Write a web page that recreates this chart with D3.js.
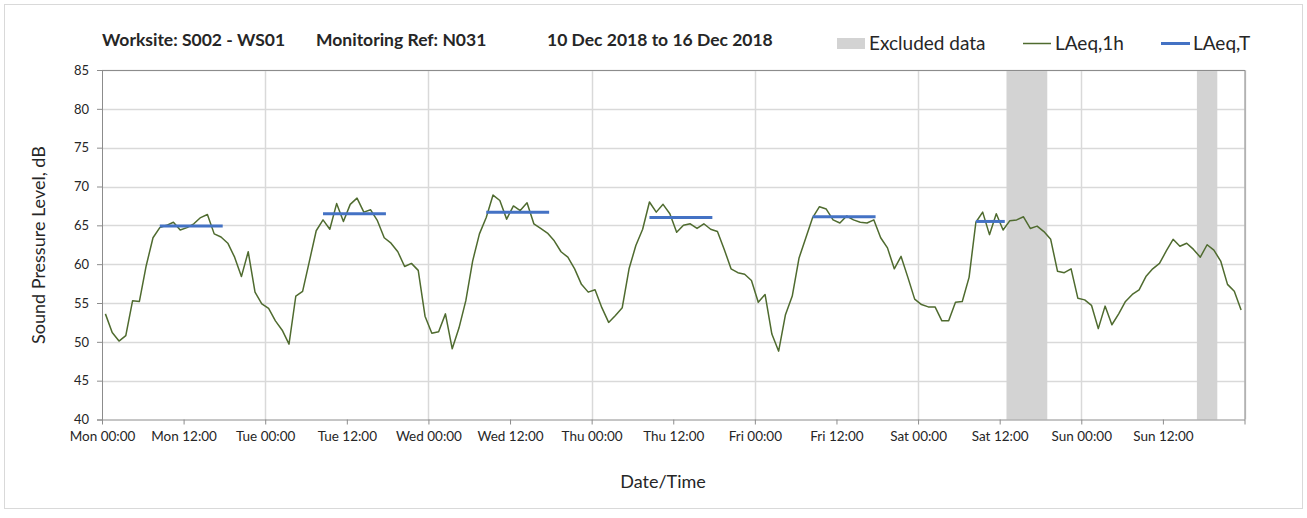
<!DOCTYPE html>
<html>
<head>
<meta charset="utf-8">
<script src="https://cdn.jsdelivr.net/npm/d3@7"></script>
<style>
    body { margin: 0; background: #fff; }
    text { font-family: Lato, "Open Sans", sans-serif; fill: #262626; }
</style>
</head>
<body>
<div id="chart"></div>
<script>
// hourly LAeq,1h values, Mon 00:00 .. Sun 23:00
var monday = [53.6, 51.2, 50.1, 50.8, 55.3, 55.2, 59.8, 63.4, 64.7, 65.0, 65.4, 64.4,
              64.7, 65.2, 66.0, 66.4, 63.9, 63.5, 62.7, 60.9, 58.4, 61.6, 56.4, 54.9];
var tuesday = [54.3, 52.7, 51.5, 49.7, 55.9, 56.5, 60.4, 64.3, 65.7, 64.5, 67.8, 65.5,
               67.7, 68.5, 66.7, 67.0, 65.6, 63.4, 62.7, 61.6, 59.7, 60.1, 59.2, 53.3];
var wednesday = [51.1, 51.3, 53.6, 49.1, 51.8, 55.3, 60.4, 63.9, 66.0, 68.9, 68.2, 65.8,
                 67.5, 66.9, 67.9, 65.2, 64.6, 64.0, 63.0, 61.6, 60.9, 59.4, 57.4, 56.4];
var thursday = [56.7, 54.4, 52.5, 53.4, 54.4, 59.4, 62.4, 64.5, 68.0, 66.7, 67.7, 66.5,
                64.1, 65.0, 65.2, 64.6, 65.2, 64.5, 64.2, 61.9, 59.4, 58.9, 58.7, 57.9];
var friday = [55.1, 56.1, 51.0, 48.8, 53.5, 55.9, 60.8, 63.4, 66.0, 67.4, 67.1, 65.7,
              65.3, 66.2, 65.7, 65.4, 65.3, 65.7, 63.4, 62.1, 59.4, 61.0, 58.3, 55.5];
var saturday = [54.8, 54.5, 54.5, 52.7, 52.7, 55.1, 55.2, 58.3, 65.4, 66.7, 63.8, 66.5,
                64.4, 65.6, 65.7, 66.1, 64.6, 64.9, 64.2, 63.2, 59.1, 58.9, 59.4, 55.6];
var sunday = [55.4, 54.7, 51.7, 54.6, 52.2, 53.6, 55.2, 56.1, 56.7, 58.4, 59.4, 60.1,
              61.7, 63.2, 62.3, 62.7, 61.9, 60.9, 62.5, 61.8, 60.4, 57.4, 56.5, 54.1];

// LAeq,T daytime values: first hour, last hour, level
var laeqT = [
    {from: 8, to: 17, level: 64.9},
    {from: 32, to: 41, level: 66.5},
    {from: 56, to: 65, level: 66.7},
    {from: 80, to: 89, level: 66.0},
    {from: 104, to: 113, level: 66.1},
    {from: 128, to: 132, level: 65.5}
];

// excluded periods in hours since Mon 00:00
var excluded = [
    {start: 133, end: 139},
    {start: 161, end: 164}
];

var xTickLabels = ["Mon 00:00", "Mon 12:00", "Tue 00:00", "Tue 12:00", "Wed 00:00", "Wed 12:00",
                   "Thu 00:00", "Thu 12:00", "Fri 00:00", "Fri 12:00", "Sat 00:00", "Sat 12:00",
                   "Sun 00:00", "Sun 12:00"];
var yTicks = [40, 45, 50, 55, 60, 65, 70, 75, 80, 85];

function drawChart() {
    var hourly = [].concat(monday, tuesday, wednesday, thursday, friday, saturday, sunday);

    var width = 1307;
    var height = 518;
    var pLeft = 102, pRight = 1244.5, pTop = 70, pBottom = 419.5;

    var svg = d3.select("#chart").append("svg")
        .attr("width", width)
        .attr("height", height);

    //outer chart border
    svg.append("rect")
        .attr("x", 4.5).attr("y", 4.5)
        .attr("width", 1298).attr("height", 504)
        .attr("fill", "none")
        .attr("stroke", "#d9d9d9");

    var x = d3.scaleLinear().domain([0, 168]).range([pLeft, pRight]);
    var y = d3.scaleLinear().domain([40, 85]).range([pBottom, pTop]);

    //gridlines
    svg.append("g").selectAll("line")
        .data(yTicks.filter(function (d) { return d > 40; }))
        .enter().append("line")
        .attr("x1", pLeft).attr("x2", pRight)
        .attr("y1", function (d) { return Math.round(y(d)) + 0.5; })
        .attr("y2", function (d) { return Math.round(y(d)) + 0.5; })
        .attr("stroke", "#d9d9d9")
        .attr("stroke-width", 1.5);

    svg.append("g").selectAll("line")
        .data(d3.range(24, 169, 24))
        .enter().append("line")
        .attr("x1", function (d) { return Math.round(x(d)) + 0.5; })
        .attr("x2", function (d) { return Math.round(x(d)) + 0.5; })
        .attr("y1", pTop).attr("y2", pBottom)
        .attr("stroke", "#d9d9d9")
        .attr("stroke-width", 1.5);

    //excluded data bands
    svg.append("g").selectAll("rect")
        .data(excluded)
        .enter().append("rect")
        .attr("x", function (d) { return x(d.start); })
        .attr("width", function (d) { return x(d.end) - x(d.start); })
        .attr("y", pTop)
        .attr("height", pBottom - pTop)
        .attr("fill", "#d3d3d3");

    //axes
    var yAxis = d3.axisLeft(y).tickValues(yTicks).tickSize(5).tickPadding(8);
    var gy = svg.append("g")
        .attr("transform", "translate(" + pLeft + ",0)")
        .call(yAxis);
    gy.select(".domain").attr("stroke", "#8c8c8c");
    gy.selectAll(".tick line").attr("stroke", "#8c8c8c");
    gy.selectAll("text").style("font-size", "13px").attr("fill", "#262626");

    var xAxis = d3.axisBottom(x)
        .tickValues(d3.range(0, 169, 12))
        .tickSize(5)
        .tickPadding(7)
        .tickFormat(function (d, i) { return xTickLabels[i] || ""; })
        .tickSizeOuter(0);
    var gx = svg.append("g")
        .attr("transform", "translate(0," + pBottom + ")")
        .call(xAxis);
    gx.select(".domain").attr("stroke", "#8c8c8c");
    gx.selectAll(".tick line").attr("stroke", "#8c8c8c");
    gx.selectAll("text").style("font-size", "13.5px").attr("fill", "#262626");

    //top and right frame
    svg.append("path")
        .attr("d", "M" + pLeft + "," + (pTop + 0.5) + "H" + (pRight + 0.5) + "V" + pBottom)
        .attr("fill", "none")
        .attr("stroke", "#8c8c8c");

    //LAeq,1h line
    var line = d3.line()
        .x(function (d, i) { return x(i + 0.5); })
        .y(function (d) { return y(d); });

    svg.append("path")
        .datum(hourly)
        .attr("d", line)
        .attr("fill", "none")
        .attr("stroke", "#4f6b2f")
        .attr("stroke-width", 1.5)
        .attr("stroke-linejoin", "round");

    //LAeq,T segments
    svg.append("g").selectAll("line")
        .data(laeqT)
        .enter().append("line")
        .attr("x1", function (d) { return x(d.from + 0.5); })
        .attr("x2", function (d) { return x(d.to + 0.75); })
        .attr("y1", function (d) { return y(d.level); })
        .attr("y2", function (d) { return y(d.level); })
        .attr("stroke", "#4472c4")
        .attr("stroke-width", 3);

    //title
    var title = svg.append("g").style("font-size", "17.5px").style("font-weight", "bold");
    title.append("text").attr("x", 102).attr("y", 46).text("Worksite: S002 - WS01");
    title.append("text").attr("x", 316).attr("y", 46).text("Monitoring Ref: N031");
    title.append("text").attr("x", 547).attr("y", 46).text("10 Dec 2018 to 16 Dec 2018");

    //legend
    var legend = svg.append("g").style("font-size", "19px");
    legend.append("rect").attr("x", 837).attr("y", 38).attr("width", 28).attr("height", 11).attr("fill", "#d3d3d3");
    legend.append("text").attr("x", 869).attr("y", 50).text("Excluded data");
    legend.append("line").attr("x1", 1023).attr("x2", 1051).attr("y1", 43.5).attr("y2", 43.5)
        .attr("stroke", "#4f6b2f").attr("stroke-width", 1.5);
    legend.append("text").attr("x", 1055).attr("y", 50).text("LAeq,1h");
    legend.append("line").attr("x1", 1161).attr("x2", 1190).attr("y1", 43.5).attr("y2", 43.5)
        .attr("stroke", "#4472c4").attr("stroke-width", 3);
    legend.append("text").attr("x", 1193).attr("y", 50).text("LAeq,T");

    //axis titles
    svg.append("text")
        .attr("transform", "translate(45,245) rotate(-90)")
        .attr("text-anchor", "middle")
        .style("font-size", "18px")
        .text("Sound Pressure Level, dB");

    svg.append("text")
        .attr("x", 663).attr("y", 488)
        .attr("text-anchor", "middle")
        .style("font-size", "18px")
        .text("Date/Time");
}

drawChart();
</script>
</body>
</html>
